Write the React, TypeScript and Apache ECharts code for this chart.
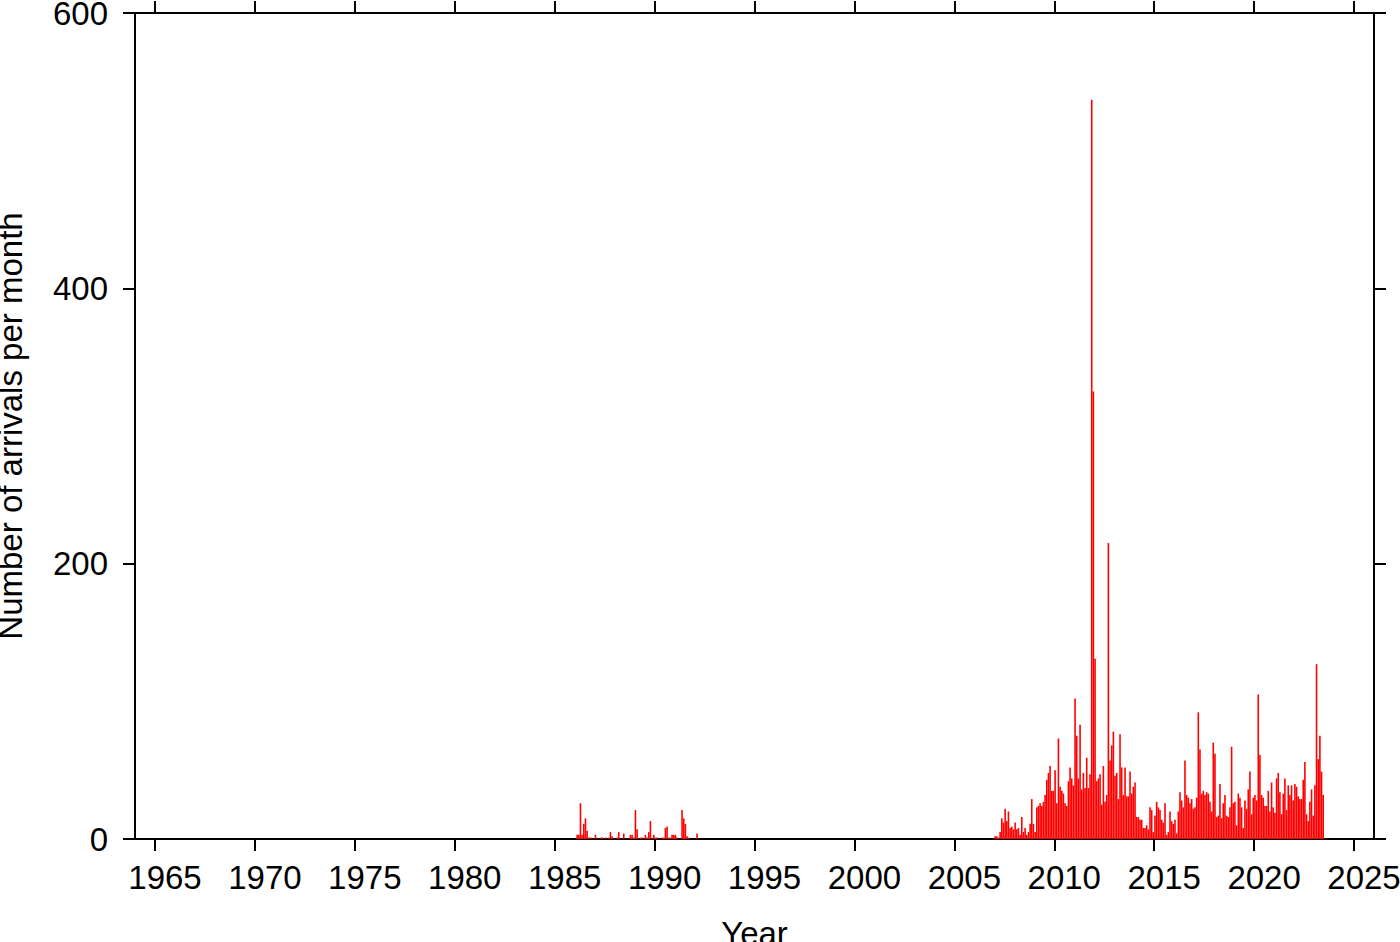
import React, { useEffect, useRef } from "react";
import * as echarts from "echarts";

// Monthly arrival counts, Jan 1986 onward
const START_A = 1986;
const countsA = [
  0, 3, 3, 26, 3, 11, 15, 6, 1, 1, 0, 0,
  3, 0, 0, 1, 1, 0, 1, 0, 1, 5, 2, 0,
  0, 1, 5, 0, 0, 4, 0, 0, 0, 3, 3, 1,
  21, 7, 0, 1, 1, 0, 3, 1, 5, 13, 0, 3,
  1, 1, 0, 0, 1, 1, 8, 9, 1, 1, 3, 3,
  3, 1, 0, 0, 21, 15, 11, 2, 1, 0, 0, 0,
  0, 4,
];

// Monthly arrival counts, Jan 2007 onward
const START_B = 2007;
const countsB = [
  2, 2, 1, 5, 15, 12, 22, 13, 20, 8, 9, 7,
  12, 7, 8, 3, 16, 5, 8, 3, 5, 11, 29, 11,
  5, 23, 24, 26, 24, 27, 32, 43, 48, 53, 35, 35,
  50, 26, 73, 38, 35, 33, 26, 24, 42, 52, 44, 39,
  102, 75, 44, 83, 36, 48, 37, 59, 37, 47, 537, 325,
  131, 42, 44, 47, 25, 53, 27, 32, 215, 57, 68, 78,
  46, 48, 29, 76, 52, 32, 52, 31, 31, 49, 33, 38,
  41, 16, 16, 14, 14, 8, 8, 10, 7, 23, 21, 5,
  17, 27, 23, 21, 14, 12, 26, 3, 5, 20, 13, 11,
  14, 4, 20, 34, 28, 23, 57, 32, 30, 26, 29, 22,
  23, 30, 92, 65, 33, 35, 32, 34, 33, 27, 20, 70,
  62, 16, 17, 40, 15, 26, 32, 17, 16, 23, 67, 26,
  27, 10, 33, 30, 23, 8, 28, 22, 36, 49, 18, 30,
  32, 28, 105, 61, 32, 30, 24, 24, 35, 20, 41, 23,
  19, 44, 48, 34, 18, 33, 44, 21, 39, 32, 39, 28,
  40, 38, 31, 29, 29, 43, 56, 18, 13, 27, 36, 17,
  39, 127, 58, 75, 49, 32,
];

const yearTicks = [1965, 1970, 1975, 1980, 1985, 1990, 1995, 2000, 2005, 2010, 2015, 2020, 2025];
const X_MIN = 1964;
const X_MAX = 2026;
const Y_MIN = 0;
const Y_MAX = 600;
const Y_STEP = 200;

const FONT = "'Liberation Sans', Arial, Helvetica, sans-serif";

function toPoints(start: number, counts: number[]) {
  return counts
    .map((v, k) => [start + (k + 0.5) / 12, v])
    .filter((p) => p[1] > 0);
}

export default function App() {
  const ref = useRef<HTMLDivElement>(null);

  useEffect(() => {
    if (!ref.current) return;
    const chart = echarts.init(ref.current, null, { renderer: "svg" });
    const data = [...toPoints(START_A, countsA), ...toPoints(START_B, countsB)];
    const lineStyle = { color: "#000", width: 2 };
    const tickStyle = { color: "#000", width: 2 };
    chart.setOption({
      animation: false,
      backgroundColor: "#fff",
      grid: {
        left: 135,
        right: 26,
        top: 13,
        bottom: 103,
        containLabel: false,
        outerBoundsMode: "none",
      },
      xAxis: [
        {
          type: "value",
          position: "bottom",
          min: X_MIN,
          max: X_MAX,
          splitLine: { show: false },
          axisLine: { show: true, onZero: false, lineStyle },
          axisTick: { show: true, length: 12, lineStyle: tickStyle, customValues: yearTicks },
          axisLabel: {
            show: true,
            customValues: yearTicks,
            color: "#000",
            fontSize: 33,
            fontFamily: FONT,
            margin: 22,
            padding: [0, 0, 0, 20],
            formatter: (v: number) => String(v),
          },
          name: "Year",
          nameLocation: "middle",
          nameGap: 78,
          nameTextStyle: { color: "#000", fontSize: 33, fontFamily: FONT },
        },
        {
          type: "value",
          position: "top",
          min: X_MIN,
          max: X_MAX,
          splitLine: { show: false },
          axisLine: { show: true, onZero: false, lineStyle },
          axisTick: { show: true, length: 12, lineStyle: tickStyle, customValues: yearTicks },
          axisLabel: { show: false },
        },
      ],
      yAxis: [
        {
          type: "value",
          position: "left",
          min: Y_MIN,
          max: Y_MAX,
          interval: Y_STEP,
          splitLine: { show: false },
          axisLine: { show: true, onZero: false, lineStyle },
          axisTick: { show: true, length: 12, lineStyle: tickStyle },
          axisLabel: {
            show: true,
            color: "#000",
            fontSize: 33,
            fontFamily: FONT,
            margin: 27,
          },
          name: "Number of arrivals per month",
          nameLocation: "middle",
          nameGap: 108,
          nameTextStyle: { color: "#000", fontSize: 33, fontFamily: FONT },
        },
        {
          type: "value",
          position: "right",
          min: Y_MIN,
          max: Y_MAX,
          interval: Y_STEP,
          splitLine: { show: false },
          axisLine: { show: true, onZero: false, lineStyle },
          axisTick: { show: true, length: 12, lineStyle: tickStyle },
          axisLabel: { show: false },
        },
      ],
      series: [
        {
          type: "bar",
          xAxisIndex: 0,
          yAxisIndex: 0,
          data,
          barWidth: 1.6,
          itemStyle: { color: "#ff0000" },
          z: 1,
        },
      ],
    });
    return () => chart.dispose();
  }, []);

  return (
    <div
      ref={ref}
      style={{ position: "fixed", left: 0, top: 0, width: 1400, height: 942, background: "#fff" }}
    />
  );
}
